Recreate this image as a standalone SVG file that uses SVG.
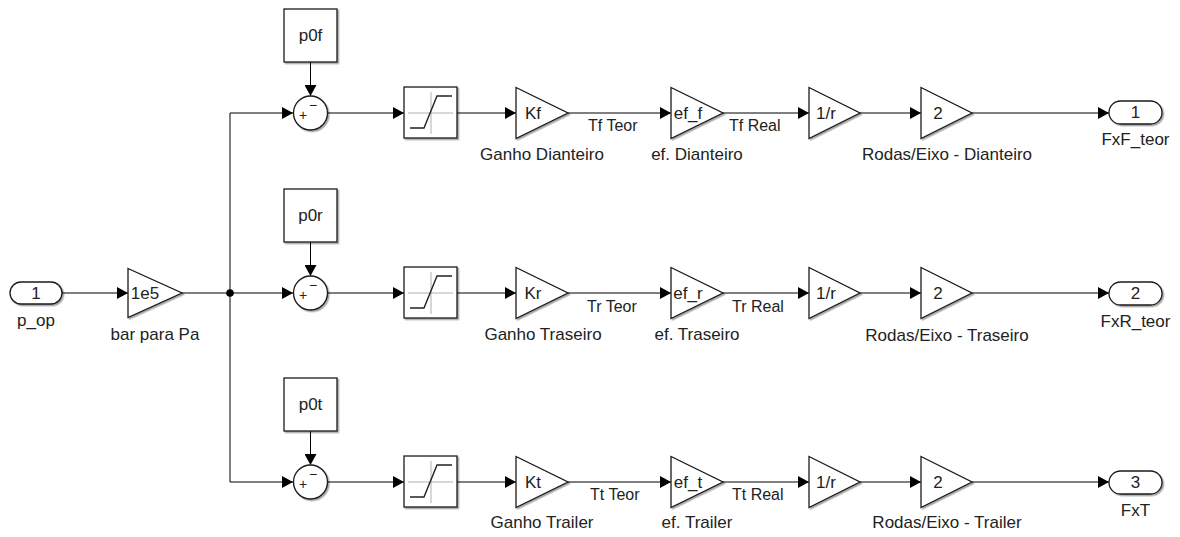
<svg xmlns="http://www.w3.org/2000/svg" width="1180" height="537" viewBox="0 0 1180 537">
<style>
  .blk{fill:#fff;stroke:#1a1a1a;stroke-width:1.3;filter:url(#ds)}
  .ln{fill:none;stroke:#000;stroke-width:1}
  .ax{fill:none;stroke:#b0b0b0;stroke-width:1}
  .cv{fill:none;stroke:#222;stroke-width:1.4}
  text{font-family:"Liberation Sans",Arial,sans-serif;fill:#222}
  .t{font-size:17px}
  .s{font-size:16px}
  .c{text-anchor:middle}
  .sg{font-size:14px;text-anchor:middle}
</style>
<defs>
  <filter id="ds" x="-20%" y="-20%" width="140%" height="140%">
    <feDropShadow dx="1.5" dy="1.5" stdDeviation="0.7" flood-color="#000" flood-opacity="0.35"/>
  </filter>
  <marker id="ah" viewBox="0 0 11 12" refX="11" refY="6" markerWidth="11" markerHeight="12" markerUnits="userSpaceOnUse" orient="auto">
    <path d="M0,0 L11,6 L0,12 Z" fill="#000"/>
  </marker>
</defs>

<g id="connectors">
  <line class="ln" x1="62" y1="293" x2="128" y2="293" marker-end="url(#ah)"/>
  <line class="ln" x1="182" y1="293" x2="230" y2="293"/>
  <line class="ln" x1="230" y1="113" x2="230" y2="482"/>
  <circle cx="230" cy="293" r="3.8" fill="#000"/>
  <line class="ln" x1="230" y1="113" x2="293" y2="113" marker-end="url(#ah)"/>
  <line class="ln" x1="230" y1="293" x2="293" y2="293" marker-end="url(#ah)"/>
  <line class="ln" x1="230" y1="482" x2="293" y2="482" marker-end="url(#ah)"/>
  <!-- row 1 -->
  <line class="ln" x1="310.5" y1="62" x2="310.5" y2="96" marker-end="url(#ah)"/>
  <line class="ln" x1="327.5" y1="113" x2="404" y2="113" marker-end="url(#ah)"/>
  <line class="ln" x1="457" y1="113" x2="516" y2="113" marker-end="url(#ah)"/>
  <line class="ln" x1="568" y1="113" x2="671" y2="113" marker-end="url(#ah)"/>
  <line class="ln" x1="723" y1="113" x2="809" y2="113" marker-end="url(#ah)"/>
  <line class="ln" x1="860" y1="113" x2="921" y2="113" marker-end="url(#ah)"/>
  <line class="ln" x1="972" y1="113" x2="1109" y2="113" marker-end="url(#ah)"/>
  <!-- row 2 -->
  <line class="ln" x1="310.5" y1="242" x2="310.5" y2="276" marker-end="url(#ah)"/>
  <line class="ln" x1="327.5" y1="293" x2="404" y2="293" marker-end="url(#ah)"/>
  <line class="ln" x1="457" y1="293" x2="516" y2="293" marker-end="url(#ah)"/>
  <line class="ln" x1="568" y1="293" x2="671" y2="293" marker-end="url(#ah)"/>
  <line class="ln" x1="723" y1="293" x2="809" y2="293" marker-end="url(#ah)"/>
  <line class="ln" x1="860" y1="293" x2="921" y2="293" marker-end="url(#ah)"/>
  <line class="ln" x1="972" y1="293" x2="1109" y2="293" marker-end="url(#ah)"/>
  <!-- row 3 -->
  <line class="ln" x1="310.5" y1="431" x2="310.5" y2="465" marker-end="url(#ah)"/>
  <line class="ln" x1="327.5" y1="482" x2="404" y2="482" marker-end="url(#ah)"/>
  <line class="ln" x1="457" y1="482" x2="516" y2="482" marker-end="url(#ah)"/>
  <line class="ln" x1="568" y1="482" x2="671" y2="482" marker-end="url(#ah)"/>
  <line class="ln" x1="723" y1="482" x2="809" y2="482" marker-end="url(#ah)"/>
  <line class="ln" x1="860" y1="482" x2="921" y2="482" marker-end="url(#ah)"/>
  <line class="ln" x1="972" y1="482" x2="1109" y2="482" marker-end="url(#ah)"/>
  <!-- signal labels -->
  <text class="s" x="588" y="131">Tf Teor</text>
  <text class="s" x="729" y="131">Tf Real</text>
  <text class="s" x="587" y="312">Tr Teor</text>
  <text class="s" x="732" y="312">Tr Real</text>
  <text class="s" x="590" y="500">Tt Teor</text>
  <text class="s" x="732" y="500">Tt Real</text>
</g>

<g id="in_p_op">
  <rect class="blk" x="10" y="282" width="52" height="22" rx="11"/>
  <text class="t c" x="36" y="299">1</text>
  <text class="t c" x="36" y="326">p_op</text>
</g>
<g id="gain_bar_para_pa">
  <path class="blk" d="M128,268.5 L182,293 L128,317.5 Z"/>
  <text class="t c" x="145" y="299">1e5</text>
  <text class="t c" x="155" y="340">bar para Pa</text>
</g>

<!-- Row 1 -->
<g id="const_p0f">
  <rect class="blk" x="284" y="9" width="53" height="53"/>
  <text class="t c" x="310.5" y="41">p0f</text>
</g>
<g id="sum_f">
  <circle class="blk" cx="310.5" cy="113" r="17"/>
  <text class="sg" x="303" y="120">+</text>
  <text class="sg" x="313" y="110">−</text>
</g>
<g id="sat_f">
  <rect class="blk" x="404" y="87" width="53" height="51"/>
  <line class="ax" x1="431" y1="92" x2="431" y2="134"/>
  <line class="ax" x1="408" y1="113" x2="453" y2="113"/>
  <polyline class="cv" points="410,128 424,128 437,96 452,96"/>
</g>
<g id="gain_kf">
  <path class="blk" d="M516,87.5 L568,113 L516,138.5 Z"/>
  <text class="t c" x="533" y="119">Kf</text>
  <text class="t c" x="542" y="160">Ganho Dianteiro</text>
</g>
<g id="gain_ef_f">
  <path class="blk" d="M671,87.5 L723,113 L671,138.5 Z"/>
  <text class="t c" x="688" y="119">ef_f</text>
  <text class="t c" x="697" y="160">ef. Dianteiro</text>
</g>
<g id="gain_1r_f">
  <path class="blk" d="M809,87.5 L860,113 L809,138.5 Z"/>
  <text class="t c" x="826" y="119">1/r</text>
</g>
<g id="gain_2_f">
  <path class="blk" d="M921,87.5 L972,113 L921,138.5 Z"/>
  <text class="t c" x="938" y="119">2</text>
  <text class="t c" x="947" y="160">Rodas/Eixo - Dianteiro</text>
</g>
<g id="out_fxf">
  <rect class="blk" x="1109" y="101" width="53" height="23" rx="11.5"/>
  <text class="t c" x="1135.5" y="118">1</text>
  <text class="t c" x="1135.5" y="145">FxF_teor</text>
</g>

<!-- Row 2 -->
<g id="const_p0r">
  <rect class="blk" x="284" y="189" width="53" height="53"/>
  <text class="t c" x="310.5" y="221">p0r</text>
</g>
<g id="sum_r">
  <circle class="blk" cx="310.5" cy="293" r="17"/>
  <text class="sg" x="303" y="300">+</text>
  <text class="sg" x="313" y="290">−</text>
</g>
<g id="sat_r">
  <rect class="blk" x="404" y="267" width="53" height="51"/>
  <line class="ax" x1="431" y1="272" x2="431" y2="314"/>
  <line class="ax" x1="408" y1="293" x2="453" y2="293"/>
  <polyline class="cv" points="410,308 424,308 437,276 452,276"/>
</g>
<g id="gain_kr">
  <path class="blk" d="M516,267.5 L568,293 L516,318.5 Z"/>
  <text class="t c" x="533" y="299">Kr</text>
  <text class="t c" x="543" y="340">Ganho Traseiro</text>
</g>
<g id="gain_ef_r">
  <path class="blk" d="M671,267.5 L723,293 L671,318.5 Z"/>
  <text class="t c" x="688" y="299">ef_r</text>
  <text class="t c" x="697" y="340">ef. Traseiro</text>
</g>
<g id="gain_1r_r">
  <path class="blk" d="M809,267.5 L860,293 L809,318.5 Z"/>
  <text class="t c" x="826" y="299">1/r</text>
</g>
<g id="gain_2_r">
  <path class="blk" d="M921,267.5 L972,293 L921,318.5 Z"/>
  <text class="t c" x="938" y="299">2</text>
  <text class="t c" x="947" y="341">Rodas/Eixo - Traseiro</text>
</g>
<g id="out_fxr">
  <rect class="blk" x="1109" y="282" width="53" height="23" rx="11.5"/>
  <text class="t c" x="1135.5" y="299">2</text>
  <text class="t c" x="1135.5" y="327">FxR_teor</text>
</g>

<!-- Row 3 -->
<g id="const_p0t">
  <rect class="blk" x="284" y="378" width="53" height="53"/>
  <text class="t c" x="310.5" y="410">p0t</text>
</g>
<g id="sum_t">
  <circle class="blk" cx="310.5" cy="482" r="17"/>
  <text class="sg" x="303" y="489">+</text>
  <text class="sg" x="313" y="479">−</text>
</g>
<g id="sat_t">
  <rect class="blk" x="404" y="456" width="53" height="51"/>
  <line class="ax" x1="431" y1="461" x2="431" y2="503"/>
  <line class="ax" x1="408" y1="482" x2="453" y2="482"/>
  <polyline class="cv" points="410,497 424,497 437,465 452,465"/>
</g>
<g id="gain_kt">
  <path class="blk" d="M516,456.5 L568,482 L516,507.5 Z"/>
  <text class="t c" x="533" y="488">Kt</text>
  <text class="t c" x="542" y="528">Ganho Trailer</text>
</g>
<g id="gain_ef_t">
  <path class="blk" d="M671,456.5 L723,482 L671,507.5 Z"/>
  <text class="t c" x="688" y="488">ef_t</text>
  <text class="t c" x="697" y="528">ef. Trailer</text>
</g>
<g id="gain_1r_t">
  <path class="blk" d="M809,456.5 L860,482 L809,507.5 Z"/>
  <text class="t c" x="826" y="488">1/r</text>
</g>
<g id="gain_2_t">
  <path class="blk" d="M921,456.5 L972,482 L921,507.5 Z"/>
  <text class="t c" x="938" y="488">2</text>
  <text class="t c" x="947" y="528">Rodas/Eixo - Trailer</text>
</g>
<g id="out_fxt">
  <rect class="blk" x="1109" y="471" width="53" height="23" rx="11.5"/>
  <text class="t c" x="1135.5" y="488">3</text>
  <text class="t c" x="1135.5" y="516">FxT</text>
</g>
</svg>
